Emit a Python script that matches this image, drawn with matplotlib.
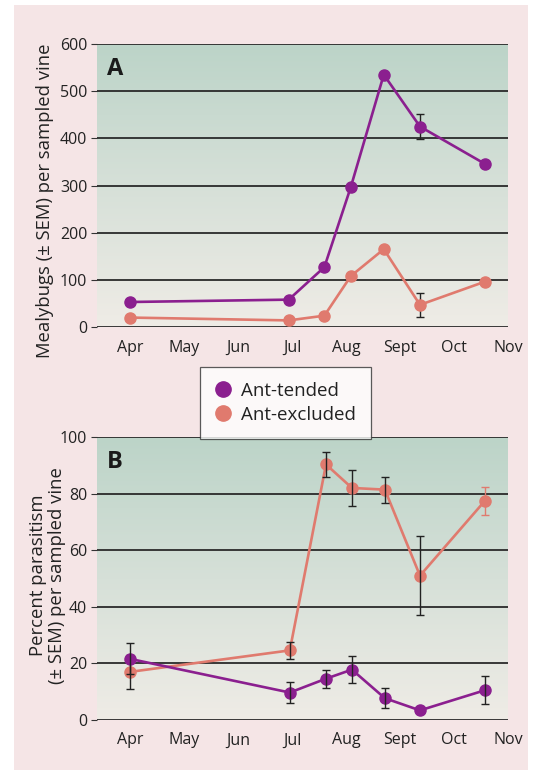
import numpy as np
import matplotlib
matplotlib.use("Agg")
import matplotlib.pyplot as plt
from matplotlib.colors import LinearSegmentedColormap
from matplotlib.patches import Rectangle
from matplotlib.lines import Line2D
import matplotlib.transforms as mtransforms

plt.rcParams['font.family'] = ['Open Sans', 'DejaVu Sans']

months = ["Apr", "May", "Jun", "Jul", "Aug", "Sept", "Oct", "Nov"]

# Panel A: mealybugs per sampled vine (x in months since Apr 1)
a_x = [0.0, 2.94, 3.60, 4.09, 4.70, 5.37, 6.57]
a_tended = [53, 58, 127, 297, 535, 425, 346]
a_tended_err = [0, 0, 0, 0, 0, 27, 0]
a_excluded = [20, 14, 24, 108, 165, 47, 96]
a_excluded_err = [0, 0, 0, 0, 0, 25, 0]

# Panel B: percent parasitism
b_x = [0.0, 2.96, 3.63, 4.11, 4.72, 5.37, 6.57]
b_tended = [21.6, 9.7, 14.6, 17.8, 7.7, 3.4, 10.5]
b_tended_err = [5.5, 3.8, 3.2, 4.8, 3.5, 0, 4.9]
b_excluded = [17, 24.6, 90.3, 82, 81.4, 51, 77.4]
b_excluded_err = [6, 3, 4.5, 6.5, 4.6, 14, 5]

PURPLE = "#8b1f8f"
SALMON = "#e07a6e"
PINK = "#f5e5e6"

W, H = 537, 770
fig = plt.figure(figsize=(W / 100, H / 100), dpi=100, facecolor="white")
fig.patches.append(Rectangle((14 / W, 0), (528 - 14) / W, (770 - 5) / H,
                             transform=fig.transFigure, facecolor=PINK,
                             edgecolor="none", zorder=-10))

cmap = LinearSegmentedColormap.from_list("bg", ["#efece6", "#d6e0d8", "#bcd4c8"])


def setup(ax, ymax, ystep, label, panel, label_x, label_y):
    ax.set_facecolor("none")
    ax.set_xlim(-0.61, 7)
    ax.set_ylim(0, ymax)
    grad = np.linspace(0, 1, 256).reshape(-1, 1)
    ax.imshow(grad, extent=[-0.61, 7, 0, ymax], origin="lower", aspect="auto",
              cmap=cmap, zorder=0)
    yt = np.arange(0, ymax + 1, ystep)
    for y in yt:
        ax.axhline(y, color="#2a2a2a", lw=1.3, zorder=1)
    ax.set_yticks(yt)
    ax.set_xticks(range(len(months)))
    ax.set_xticklabels(months)
    for s in ax.spines.values():
        s.set_visible(False)
    ax.tick_params(axis="y", length=4, width=0.8, color="#333333", pad=3,
                   labelsize=11.5, labelcolor="#222222")
    ax.tick_params(axis="x", length=0, pad=9, labelsize=11.5,
                   labelcolor="#222222")
    ax.text(0.025, 0.955, panel, transform=ax.transAxes, fontsize=17,
            fontweight="bold", va="top", ha="left", color="#1a1a1a", zorder=5)
    ax.set_ylabel(label, fontsize=13.3, color="#222222", linespacing=1.05)
    ax.yaxis.set_label_coords(label_x, label_y,
                              transform=mtransforms.blended_transform_factory(
                                  fig.transFigure, ax.transAxes))


lw = 1.9
ms = 8

axA = fig.add_axes([97 / W, 1 - 327 / H, 411 / W, 283 / H])
setup(axA, 600, 100, "Mealybugs (± SEM) per sampled vine", "A", 54 / W, 0.445)
axA.errorbar(a_x, a_excluded, yerr=[e if e else np.nan for e in a_excluded_err],
             color=SALMON, lw=lw, marker="o", ms=ms, ecolor="#222222",
             elinewidth=1, capsize=3, capthick=1, zorder=3)
axA.errorbar(a_x, a_tended, yerr=[e if e else np.nan for e in a_tended_err],
             color=PURPLE, lw=lw, marker="o", ms=ms, ecolor="#222222",
             elinewidth=1, capsize=3, capthick=1, zorder=4)

axB = fig.add_axes([97 / W, 1 - 720 / H, 411 / W, 283 / H])
setup(axB, 100, 20, "Percent parasitism\n(± SEM) per sampled vine", "B",
      66 / W, 0.51)
ecols = ["#222222"] * (len(b_x) - 1) + [SALMON]
axB.plot(b_x, b_excluded, color=SALMON, lw=lw, marker="o", ms=ms, zorder=3)
for xi, yi, ei, ci in zip(b_x, b_excluded, b_excluded_err, ecols):
    if ei:
        axB.errorbar([xi], [yi], yerr=[ei], fmt="none", ecolor=ci,
                     elinewidth=1, capsize=3, capthick=1, zorder=3.5)
axB.plot(b_x, b_tended, color=PURPLE, lw=lw, marker="o", ms=ms, zorder=4)
for xi, yi, ei in zip(b_x, b_tended, b_tended_err):
    if ei:
        axB.errorbar([xi], [yi], yerr=[ei], fmt="none", ecolor="#222222",
                     elinewidth=1, capsize=3, capthick=1, zorder=4.5)

handles = [
    Line2D([], [], ls="none", marker="o", ms=11, color=PURPLE, label="Ant-tended"),
    Line2D([], [], ls="none", marker="o", ms=11, color=SALMON, label="Ant-excluded"),
]
leg = fig.legend(handles=handles, loc="upper left",
                 bbox_to_anchor=(200 / W, 1 - 367 / H), fontsize=13.5,
                 frameon=True, fancybox=False, handlelength=0.8,
                 handletextpad=0.6, borderpad=0.8, labelspacing=0.3,
                 borderaxespad=0)
leg.get_frame().set_edgecolor("#333333")
leg.get_frame().set_linewidth(0.9)
leg.get_frame().set_facecolor("white")
leg.set_zorder(10)
for t in leg.get_texts():
    t.set_color("#222222")

fig.savefig("out.png", dpi=100, facecolor="white")
